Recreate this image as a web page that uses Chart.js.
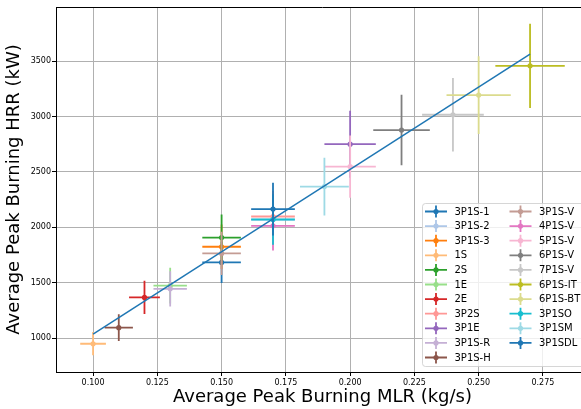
<!DOCTYPE html>
<html>
<head>
<meta charset="utf-8">
<script src="https://cdn.jsdelivr.net/npm/chart.js"></script>
<style>
  html, body { margin: 0; padding: 0; background: #fff; overflow: hidden; }
  #wrap { width: 600px; height: 409px; }
</style>
</head>
<body>
<div id="wrap"><canvas id="chart" width="600" height="409"></canvas></div>
<script>
// series
const labels = ["3P1S-1", "3P1S-2", "3P1S-3", "1S", "2S", "1E", "2E", "3P2S", "3P1E", "3P1S-R", "3P1S-H",
                "3P1S-V", "4P1S-V", "5P1S-V", "6P1S-V", "7P1S-V", "6P1S-IT", "6P1S-BT", "3P1SO", "3P1SM", "3P1SDL"];
const mlr    = [0.15, 0.17, 0.15, 0.10, 0.15, 0.13, 0.12, 0.17, 0.20, 0.13, 0.11,
                0.15, 0.17, 0.20, 0.22, 0.24, 0.27, 0.25, 0.17, 0.19, 0.17];
const hrr    = [1684, 2070, 1825, 950, 1908, 1474, 1368, 2098, 2750, 1445, 1095,
                1765, 2014, 2548, 2878, 3016, 3457, 3193, 2071, 2368, 2165];
const mlrErr = [0.0075, 0.0085, 0.0075, 0.005, 0.0075, 0.0065, 0.006, 0.0085, 0.01, 0.0065, 0.0055,
                0.0075, 0.0085, 0.01, 0.011, 0.012, 0.0135, 0.0125, 0.0085, 0.0095, 0.0085];
const hrrErr = [185, 228, 200, 105, 208, 162, 150, 230, 303, 160, 120,
                195, 222, 280, 318, 332, 381, 351, 228, 261, 238];
const colors = ["#1f77b4", "#aec7e8", "#ff7f0e", "#ffbb78", "#2ca02c", "#98df8a", "#d62728", "#ff9896", "#9467bd", "#c5b0d5", "#8c564b",
                "#c49c94", "#e377c2", "#f7b6d2", "#7f7f7f", "#c7c7c7", "#bcbd22", "#dbdb8d", "#17becf", "#9edae5", "#1f77b4"];

// linear fit line
const fitX = [0.10, 0.27];
const fitY = [1036, 3562];

const xTicks = [0.100, 0.125, 0.150, 0.175, 0.200, 0.225, 0.250, 0.275];
const yTicks = [1000, 1500, 2000, 2500, 3000, 3500];

const FONT = "'DejaVu Sans', sans-serif";

const datasets = labels.map((name, i) => ({
    label: name,
    data: [{ x: mlr[i], y: hrr[i] }],
    backgroundColor: colors[i],
    borderColor: colors[i],
    pointRadius: 2.6,
    pointBorderWidth: 0,
    pointHoverRadius: 2.6,
    order: 100 - i
}));
datasets.push({
    label: "fit",
    data: fitX.map((x, i) => ({ x: x, y: fitY[i] })),
    showLine: true,
    borderColor: "#1f77b4",
    borderWidth: 1.5,
    pointRadius: 0,
    order: -1
});

// error bars, drawn just before each series' marker
const errorBars = {
    id: "errorBars",
    beforeDatasetDraw(chart, args) {
        const i = args.index;
        if (i >= labels.length) return;
        const xs = chart.scales.x, ys = chart.scales.y, ctx = chart.ctx, a = chart.chartArea;
        const cx = xs.getPixelForValue(mlr[i]), cy = ys.getPixelForValue(hrr[i]);
        ctx.save();
        ctx.beginPath();
        ctx.rect(a.left, a.top, a.right - a.left, a.bottom - a.top);
        ctx.clip();
        ctx.strokeStyle = colors[i];
        ctx.lineWidth = 1.8;
        ctx.beginPath();
        ctx.moveTo(xs.getPixelForValue(mlr[i] - mlrErr[i]), cy);
        ctx.lineTo(xs.getPixelForValue(mlr[i] + mlrErr[i]), cy);
        ctx.moveTo(cx, ys.getPixelForValue(hrr[i] - hrrErr[i]));
        ctx.lineTo(cx, ys.getPixelForValue(hrr[i] + hrrErr[i]));
        ctx.stroke();
        ctx.restore();
    }
};

// top spine and matplotlib-like legend
const frameAndLegend = {
    id: "frameAndLegend",
    afterDraw(chart) {
        const ctx = chart.ctx, a = chart.chartArea;
        ctx.save();
        ctx.strokeStyle = "#000";
        ctx.lineWidth = 1;
        ctx.beginPath();
        ctx.moveTo(a.left, a.top + 0.5);
        ctx.lineTo(a.right, a.top + 0.5);
        ctx.stroke();

        const bx = 422.5, by = 203.5, bw = 175, bh = 163;
        ctx.beginPath();
        ctx.roundRect(bx, by, bw, bh, 3);
        ctx.fillStyle = "rgba(255,255,255,0.8)";
        ctx.fill();
        ctx.strokeStyle = "rgba(204,204,204,0.8)";
        ctx.stroke();

        ctx.font = "10px " + FONT;
        ctx.textBaseline = "middle";
        ctx.textAlign = "left";
        const rows = 11, rowH = 14.6, top = 211.5;
        labels.forEach((name, i) => {
            const col = Math.floor(i / rows), row = i % rows;
            const hx = col === 0 ? 425 : 509.5;
            const ty = top + row * rowH;
            const mid = hx + 11;
            ctx.strokeStyle = colors[i];
            ctx.lineWidth = 1.8;
            ctx.beginPath();
            ctx.moveTo(hx, ty);
            ctx.lineTo(hx + 22, ty);
            ctx.moveTo(mid, ty - 6);
            ctx.lineTo(mid, ty + 6);
            ctx.stroke();
            ctx.fillStyle = colors[i];
            ctx.beginPath();
            ctx.arc(mid, ty, 2.6, 0, Math.PI * 2);
            ctx.fill();
            ctx.fillStyle = "#000";
            ctx.fillText(name, hx + 29.5, ty + 0.5);
        });
        ctx.restore();
    }
};

new Chart(document.getElementById("chart"), {
    type: "scatter",
    data: { datasets: datasets },
    options: {
        responsive: false,
        animation: false,
        events: [],
        layout: { padding: { left: 0, top: 7, right: 11, bottom: 0 } },
        plugins: { legend: { display: false }, tooltip: { enabled: false } },
        scales: {
            x: {
                type: "linear",
                min: 0.08558,
                max: 0.29293,
                afterFit(scale) { scale.height = 37; },
                afterBuildTicks(scale) { scale.ticks = xTicks.map(v => ({ value: v })); },
                grid: { color: "#b0b0b0", lineWidth: 1, tickColor: "#000", tickLength: 4 },
                border: { color: "#000", width: 1 },
                ticks: {
                    color: "#000",
                    padding: 2,
                    maxRotation: 0,
                    font: { family: FONT, size: 8 },
                    callback: v => v.toFixed(3)
                },
                title: {
                    display: true,
                    text: "Average Peak Burning MLR (kg/s)",
                    color: "#000",
                    font: { family: FONT, size: 18 },
                    padding: { top: 0, bottom: 1 }
                }
            },
            y: {
                type: "linear",
                min: 695,
                max: 3988,
                afterFit(scale) { scale.width = 56; },
                afterBuildTicks(scale) { scale.ticks = yTicks.map(v => ({ value: v })); },
                grid: { color: "#b0b0b0", lineWidth: 1, tickColor: "#000", tickLength: 4 },
                border: { color: "#000", width: 1 },
                ticks: {
                    color: "#000",
                    padding: 1,
                    font: { family: FONT, size: 8 },
                    callback: v => String(v)
                },
                title: {
                    display: true,
                    text: "Average Peak Burning HRR (kW)",
                    color: "#000",
                    font: { family: FONT, size: 18 },
                    padding: { top: 4, bottom: 0 }
                }
            }
        }
    },
    plugins: [errorBars, frameAndLegend]
});
</script>
</body>
</html>
